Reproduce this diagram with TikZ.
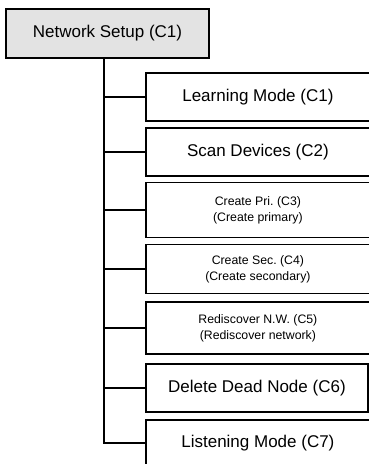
\documentclass[tikz,border=0pt]{standalone}
\usepackage{fontspec}
\setmainfont{Liberation Sans}
\begin{document}
\begin{tikzpicture}[x=1pt,y=-1pt,
  bigtxt/.style={font=\fontsize{17}{20}\selectfont},
  smalltxt/.style={font=\fontsize{12.3}{16}\selectfont},
  item/.style={draw=black, line width=1.8pt, fill=white, inner sep=0pt, align=center, anchor=west, minimum width=232pt},
  link/.style={draw=black, line width=1.8pt}]
\useasboundingbox (0,0) rectangle (368,464);
\node[draw=black, line width=1.8pt, fill=gray!22, minimum width=203pt, minimum height=49pt, inner sep=0pt, bigtxt] (root) at (107.5,33.5) {Network Setup (C1)};
\node[item, bigtxt, minimum height=48pt] (c1) at (145,97) {\hspace*{-8pt}Learning Mode (C1)};
\node[item, bigtxt, minimum height=48pt] (c2) at (145,152) {\hspace*{-8pt}Scan Devices (C2)};
\node[item, smalltxt, minimum height=55pt] (c3) at (145,210) {\hspace*{-8pt}Create Pri.\ (C3)\\\hspace*{-8pt}(Create primary)};
\node[item, smalltxt, minimum height=49pt] (c4) at (145,269) {\hspace*{-8pt}Create Sec.\ (C4)\\\hspace*{-8pt}(Create secondary)};
\node[item, smalltxt, minimum height=52pt] (c5) at (145,328) {\hspace*{-8pt}Rediscover N.W.\ (C5)\\\hspace*{-8pt}(Rediscover network)};
\node[item, bigtxt, minimum height=48pt, minimum width=222pt] (c6) at (145,388) {Delete Dead Node (C6)};
\node[item, bigtxt, minimum height=46pt] (c7) at (145,443) {\hspace*{-8pt}Listening Mode (C7)};
\coordinate (trunk) at (104,0);
\draw[link] (root.south -| trunk) |- (c7.west);
\foreach \n in {c1,c2,c3,c4,c5,c6}{
  \draw[link] (\n.west -| trunk) -- (\n.west);
}
\end{tikzpicture}
\end{document}
